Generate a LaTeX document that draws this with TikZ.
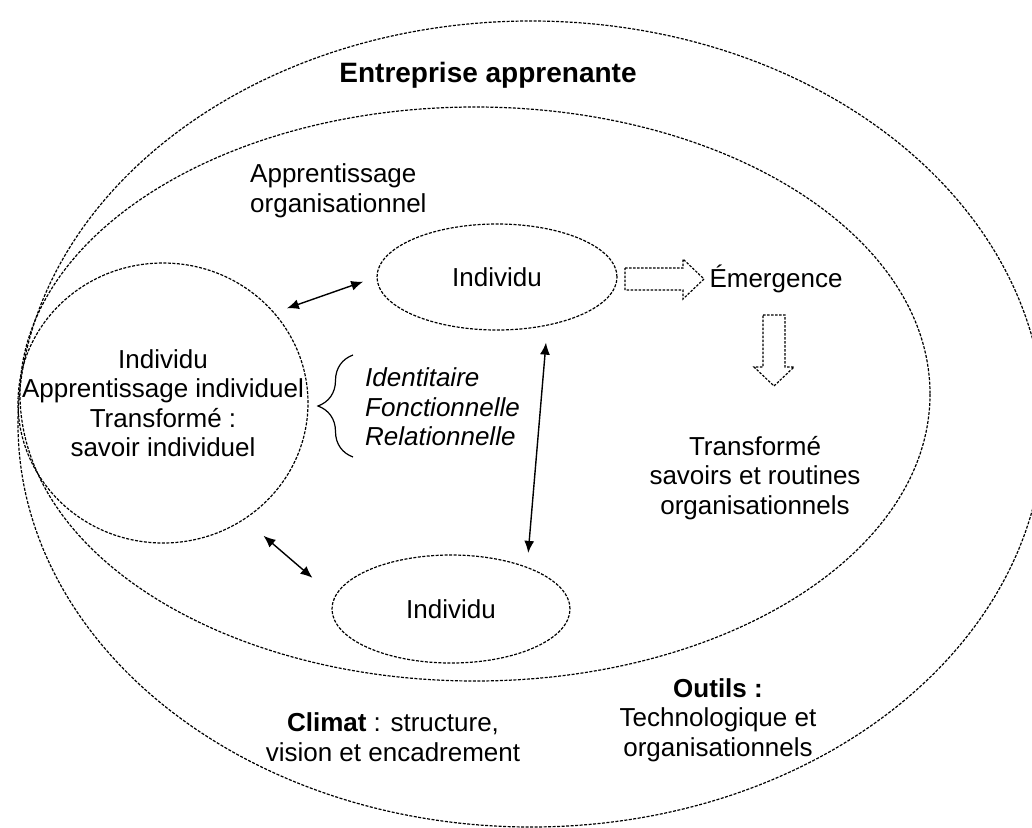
\documentclass[tikz,border=0pt]{standalone}
\usepackage{fontspec}
\setmainfont{Liberation Sans}
\usetikzlibrary{shapes.geometric,arrows.meta,decorations.pathreplacing}

\newcommand{\txtsize}{\fontsize{26}{29.5}\selectfont}

\tikzset{
  dashline/.style={line width=1.2pt, dash pattern=on 3pt off 1.5pt},
  indiv/.style={ellipse, draw, dashline, inner sep=0pt, font=\txtsize},
  lbl/.style={align=center, inner sep=0pt, font=\txtsize},
  link/.style={line width=1.4pt, {Latex[length=12pt,width=10pt]}-{Latex[length=12pt,width=10pt]}},
  hollow/.style={line width=1.2pt, dash pattern=on 2.5pt off 1.5pt}
}

\begin{document}
\begin{tikzpicture}[x=1pt, y=-1pt]

        \clip (0,0) rectangle (1032,827);

        %Enterprise and organisation
        \draw [dashline] (531,424) ellipse [x radius=513, y radius=403];
        \draw [dashline] (475,394) ellipse [x radius=455, y radius=287];
        \node [font=\fontsize{28}{32}\selectfont\bfseries] (title) at (488,75) {Entreprise apprenante};
        \node [lbl, align=left, anchor=west] (orgtxt) at (250,191) {Apprentissage\\organisationnel};

        %Individuals
        \node [indiv, minimum width=290pt, minimum height=280pt] (circ) at (163,403) {};
        \node [lbl] (circtxt) at (circ.center) {Individu\\Apprentissage individuel\\Transformé :\\savoir individuel};
        \node [indiv, minimum width=240pt, minimum height=106pt] (ind1) at (497,277) {Individu};
        \node [indiv, minimum width=238pt, minimum height=108pt] (ind2) at (451,609) {Individu};

        %Links
        \draw [link, shorten <=13pt, shorten >=14pt] (circ.39) -- (ind1.west);
        \draw [link, shorten <=17pt, shorten >=14pt] (ind1.-44) -- (ind2.29);
        \draw [link, shorten <=25pt, shorten >=29pt] (circ.-55) -- (ind2.174);

        %Kinds of learning
        \draw [line width=1.2pt, decorate, decoration={brace, amplitude=35pt}] (353,457) -- (353,355);
        \node [lbl, align=left, anchor=west, font=\txtsize\itshape] (kinds) at (365,407) {Identitaire\\Fonctionnelle\\Relationnelle};

        %Emergence
        \draw [hollow] (625,268) -- (683,268) -- (683,259) -- (704,279) -- (683,299) -- (683,290) -- (625,290) -- cycle;
        \node [lbl] (emerg) at (776,279) {Émergence};
        \draw [hollow] (763,315) -- (785,315) -- (785,367) -- (794,367) -- (774,386) -- (754,367) -- (763,367) -- cycle;
        \node [lbl] (transf) at (755,478) {Transformé\\savoirs et routines\\organisationnels};

        %Climate and tools
        \node [lbl] (climat) at (393,737) {\textbf{Climat} : structure,\\vision et encadrement};
        \node [lbl] (outils) at (718,720) {\textbf{Outils :}\\Technologique et\\organisationnels};

\end{tikzpicture}
\end{document}
